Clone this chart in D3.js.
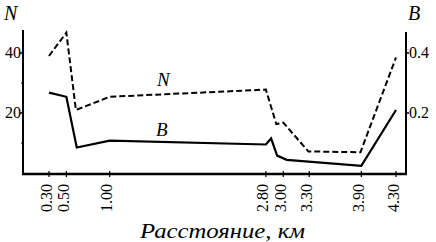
<!DOCTYPE html>
<html><head><meta charset="utf-8">
<script src="https://cdn.jsdelivr.net/npm/d3@7"></script>
<style>body{margin:0;background:#fff}svg{display:block}</style>
</head><body>
<script>
const xTicks = [0.30, 0.50, 1.00, 2.80, 3.00, 3.30, 3.90, 4.30];
const nTicks = [20, 40];
const nMinorTicks = [10, 30];
const bTicks = [0.2, 0.4];
const nX = [0.30, 0.50, 0.61, 1.00, 2.80, 2.92, 3.00, 3.29, 3.89, 4.30];
const nY = [39, 46.8, 21, 25.4, 27.8, 16.3, 16.8, 7.2, 6.9, 38.5];
const bX = [0.30, 0.50, 0.62, 1.00, 2.80, 2.86, 2.93, 3.04, 3.90, 4.30];
const bY = [0.268, 0.254, 0.085, 0.108, 0.095, 0.115, 0.058, 0.044, 0.024, 0.21];

(function () {
const W = 436, H = 242;
const FONT = "Liberation Serif";
const svg = d3.select("body").append("svg").attr("width", W).attr("height", H);
const x = d3.scaleLinear().domain([0.30, 4.30]).range([49, 396]);
const yN = d3.scaleLinear().domain([0, 40]).range([173, 53]);
const yB = d3.scaleLinear().domain([0, 0.4]).range([173, 53]);
const mLeft = 23, mRight = 406, mBottom = 174, mTop = 30;
const txt = () => svg.append("text").attr("font-family", FONT).attr("fill", "#000");

svg.append("line").attr("x1", mLeft).attr("x2", mLeft).attr("y1", mTop).attr("y2", mBottom + 1).attr("stroke", "#000").attr("stroke-width", 2);
svg.append("line").attr("x1", mRight).attr("x2", mRight).attr("y1", mTop + 2).attr("y2", mBottom + 1).attr("stroke", "#000").attr("stroke-width", 2);
svg.append("line").attr("x1", mLeft - 1).attr("x2", mRight + 1).attr("y1", mBottom).attr("y2", mBottom).attr("stroke", "#000").attr("stroke-width", 2.5);

xTicks.forEach(t => {
  svg.append("line").attr("x1", x(t)).attr("x2", x(t)).attr("y1", mBottom - 3).attr("y2", mBottom + 3).attr("stroke", "#000").attr("stroke-width", 1.2);
  txt().attr("transform", `translate(${x(t) + 2.5},${mBottom + 10}) rotate(-90)`)
    .attr("text-anchor", "end").attr("font-size", 16).text(t.toFixed(2));
});

nTicks.forEach(t => {
  svg.append("line").attr("x1", mLeft - 3).attr("x2", mLeft).attr("y1", yN(t)).attr("y2", yN(t)).attr("stroke", "#000").attr("stroke-width", 1.5);
  txt().attr("x", mLeft - 2).attr("y", yN(t) + 5).attr("text-anchor", "end").attr("font-size", 16).text(t);
});
nMinorTicks.forEach(t => {
  svg.append("line").attr("x1", mLeft - 2).attr("x2", mLeft).attr("y1", yN(t)).attr("y2", yN(t)).attr("stroke", "#000").attr("stroke-width", 1);
});
bTicks.forEach(t => {
  svg.append("line").attr("x1", mRight).attr("x2", mRight + 3).attr("y1", yB(t)).attr("y2", yB(t)).attr("stroke", "#000").attr("stroke-width", 1.5);
  txt().attr("x", mRight + 3).attr("y", yB(t) + 5).attr("text-anchor", "start").attr("font-size", 16).text(t.toFixed(1));
});

const lineN = d3.line().x((d, i) => x(nX[i])).y(d => yN(d));
const lineB = d3.line().x((d, i) => x(bX[i])).y(d => yB(d));
svg.append("path").attr("d", lineN(nY)).attr("fill", "none").attr("stroke", "#000").attr("stroke-width", 2).attr("stroke-dasharray", "6,3");
svg.append("path").attr("d", lineB(bY)).attr("fill", "none").attr("stroke", "#000").attr("stroke-width", 2.2);

txt().attr("x", 4).attr("y", 20).attr("font-size", 20).attr("font-style", "italic").text("N");
txt().attr("x", 408).attr("y", 20).attr("font-size", 20).attr("font-style", "italic").text("B");
txt().attr("x", 157).attr("y", 86).attr("font-size", 19).attr("font-style", "italic").text("N");
txt().attr("x", 156).attr("y", 136).attr("font-size", 19).attr("font-style", "italic").text("B");
txt().attr("x", 140).attr("y", 238).attr("font-size", 22).attr("font-style", "italic")
  .attr("textLength", 165).attr("lengthAdjust", "spacingAndGlyphs").text("Расстояние, км");
})();
</script>
</body></html>
